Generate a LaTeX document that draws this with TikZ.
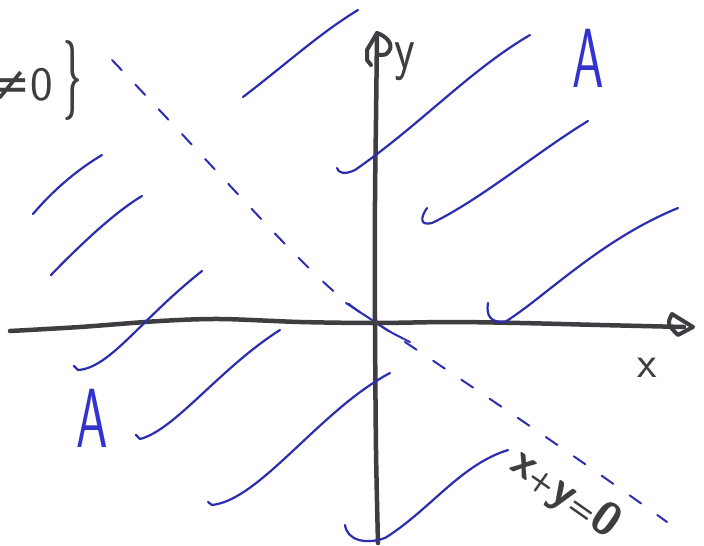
\documentclass[tikz,border=0pt]{standalone}
\usepackage{graphicx}
\usepackage{fontspec}
\newfontfamily\dejavu{DejaVu Sans}
\definecolor{ink}{RGB}{45,45,175}
\definecolor{inkA}{RGB}{50,50,205}
\definecolor{pencil}{RGB}{62,62,66}
\begin{document}
\begin{tikzpicture}[x=1pt,y=-1pt,
  hatch/.style={draw=ink,line width=2.2pt,line cap=round,line join=round},
  axis/.style={draw=pencil,line width=4.5pt,line cap=round,line join=round},
  lbl/.style={inner sep=0pt,font=\sffamily}]
\useasboundingbox[fill=white] (0,0) rectangle (704,546);

% dashed line x+y=0
\draw[ink,line width=2pt,line cap=round,dash pattern=on 14pt off 20pt]
  (112,60) .. controls (260,215) and (320,290) .. (375,322)
  .. controls (450,372) and (560,445) .. (667,522);
\draw[ink,line width=2pt,line cap=round]
  (346,303) .. controls (360,312) .. (375,322) .. controls (390,332) .. (410,342);

% axes
\draw[axis] plot[smooth] coordinates {(10,331) (80,327) (160,321) (220,319) (300,322) (375,323) (450,322) (520,323) (600,325) (684,327)};
\draw[axis,line width=4pt] (672,314) .. controls (667,324) .. (678,335) -- (693,327) -- cycle;
\draw[axis] plot[smooth] coordinates {(378,543) (376,450) (375,320) (375,200) (376,120) (377,34)};
\draw[axis,line width=4pt] (377,33) -- (367,50) -- (367,60) -- (371,65);
\draw[axis,line width=4pt] (377,33) .. controls (386,36) and (394,44) .. (389,51) .. controls (386,55) .. (377,55);

% hatch lines, upper right
\draw[hatch] (243,97) .. controls (285,65) and (320,33) .. (358,10);
\draw[hatch] (337,168) .. controls (338,173) and (345,175) .. (355,170)
  .. controls (420,125) and (470,70) .. (530,35);
\draw[hatch] (427,208) .. controls (420,218) and (420,226) .. (432,223)
  .. controls (480,200) and (540,150) .. (588,121);
\draw[hatch] (488,303) .. controls (486,315) and (490,323) .. (505,322)
  .. controls (545,297) and (600,240) .. (678,208);

% hatch lines, left
\draw[hatch] (33,214) .. controls (55,188) and (80,168) .. (102,155);
\draw[hatch] (51,275) .. controls (80,245) and (115,212) .. (142,196);
\draw[hatch] (202,271) .. controls (140,320) and (110,368) .. (78,370) -- (74,366);
\draw[hatch] (280,330) .. controls (220,368) and (175,430) .. (140,439) -- (136,435);
\draw[hatch] (390,373) .. controls (320,410) and (260,500) .. (212,505) -- (208,502);
\draw[hatch] (345,525) .. controls (347,540) and (365,545) .. (385,538)
  .. controls (430,510) and (460,465) .. (508,450);

% labels
\node[lbl,text=inkA,font=\sffamily\fontsize{84}{84}\selectfont] (A1) at (588,58) {\scalebox{0.6}[1]{A}};
\node[lbl,text=inkA,font=\sffamily\fontsize{84}{84}\selectfont] (A2) at (92,418) {\scalebox{0.6}[1]{A}};
\node[lbl,text=pencil,font=\sffamily\fontsize{45}{45}\selectfont] (xl) at (647,368) {x};
\node[lbl,text=pencil,font=\sffamily\fontsize{60}{60}\selectfont] (yl) at (405,62) {\scalebox{0.8}[1]{y}};
\node[lbl,text=pencil,font=\sffamily\bfseries\fontsize{46}{46}\selectfont,rotate=-35] (eq) at (565,494)
  {x{\fontsize{30}{30}\selectfont+}y{\fontsize{30}{30}\selectfont=}0};
\node[lbl,text=pencil,font=\sffamily\fontsize{48}{48}\selectfont,anchor=base east] (ne) at (53,100) {{\dejavu ≠}0};
\node[lbl,text=pencil,font=\sffamily\bfseries\fontsize{80}{80}\selectfont] (br) at (73,80) {\scalebox{0.4}[1]{\}}};
\end{tikzpicture}
\end{document}
